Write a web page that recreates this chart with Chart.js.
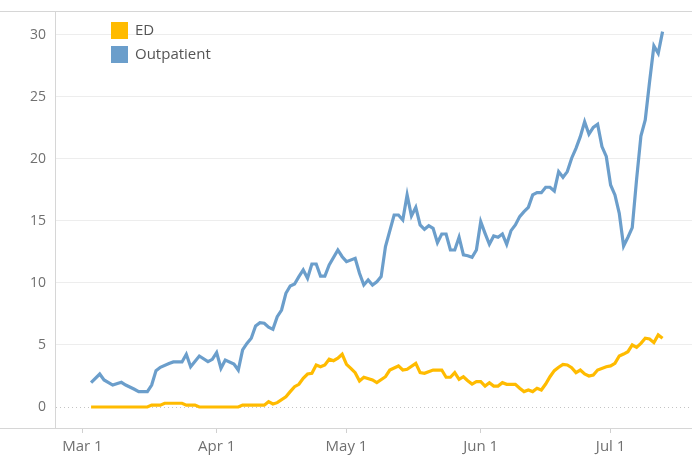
<!DOCTYPE html>
<html>
<head>
<meta charset="utf-8">
<script src="https://cdn.jsdelivr.net/npm/chart.js@4"></script>
<style>
  html, body { margin: 0; padding: 0; background: #fff; }
</style>
</head>
<body>
<canvas id="chart" width="692" height="457"></canvas>
<script>
// x values are days counted from Mar 1 (day 0)
const tickDays = [0, 31, 61, 92, 122];
const tickLabels = ['Mar 1', 'Apr 1', 'May 1', 'Jun 1', 'Jul 1'];
const yTicks = [0, 5, 10, 15, 20, 25, 30];

const edDays = [2, 15, 16, 18, 19, 23, 24, 26, 27, 36, 37, 42, 43, 44, 45, 47, 48, 49, 50, 51,
  52, 53, 54, 55, 56, 57, 58, 59, 60, 61, 62, 63, 64, 65, 67, 68, 70, 71, 73, 74, 75, 77, 78, 79,
  81, 83, 84, 85, 86, 87, 88, 89, 90, 91, 92, 93, 94, 95, 96, 97, 98, 100, 101, 102, 103, 104,
  105, 106, 107, 108, 109, 110, 111, 112, 113, 114, 115, 116, 117, 118, 119, 121, 122, 123, 124,
  125, 126, 127, 128, 129, 130, 131, 132, 133, 134];
const edValues = [0, 0, 0.15, 0.15, 0.3, 0.3, 0.15, 0.15, 0, 0, 0.15, 0.15, 0.43, 0.24, 0.35, 0.83, 1.24, 1.64, 1.83, 2.31,
  2.66, 2.72, 3.39, 3.25, 3.39, 3.85, 3.73, 3.93, 4.25, 3.44, 3.12, 2.77, 2.1, 2.4, 2.18, 1.96, 2.44, 2.98, 3.31, 2.98, 3.04, 3.52, 2.77, 2.72,
  2.98, 2.98, 2.4, 2.4, 2.77, 2.23, 2.44, 2.12, 1.85, 2.04, 2.04, 1.69, 1.96, 1.69, 1.69, 1.96, 1.83, 1.83, 1.51, 1.24, 1.37, 1.24,
  1.51, 1.37, 1.85, 2.44, 2.93, 3.2, 3.44, 3.39, 3.17, 2.77, 2.98, 2.66, 2.5, 2.58, 2.98, 3.25, 3.31, 3.52, 4.11,
  4.27, 4.46, 5.0, 4.81, 5.13, 5.54, 5.48, 5.19, 5.81, 5.54];

const outDays = [2, 4, 5, 7, 9, 10, 12, 13, 15, 16, 17, 18, 20, 21, 23, 24, 25, 27, 29, 30,
  31, 32, 33, 35, 36, 37, 38, 39, 40, 41, 42, 43, 44, 45, 46, 47, 48, 49, 50, 51,
  52, 53, 54, 55, 56, 57, 59, 60, 61, 63, 64, 65, 66, 67, 68, 69, 70, 72, 73, 74,
  75, 76, 77, 78, 79, 80, 81, 82, 83, 84, 85, 86, 87, 88, 89, 90, 91, 92, 93, 94,
  95, 96, 97, 98, 99, 100, 101, 102, 103, 104, 105, 106, 107, 108, 109, 110, 111, 112, 113, 114,
  115, 116, 117, 118, 119, 120, 121, 122, 123, 124, 125, 126, 127, 128, 129, 130, 131, 132, 133, 134];
const outValues = [1.96, 2.66, 2.18, 1.77, 1.99, 1.77, 1.43, 1.24, 1.24, 1.77, 2.93, 3.2, 3.5, 3.63, 3.63, 4.25, 3.25, 4.11, 3.66, 3.84,
  4.38, 3.12, 3.79, 3.47, 2.98, 4.6, 5.13, 5.54, 6.53, 6.8, 6.75, 6.43, 6.26, 7.28, 7.82, 9.17, 9.76, 9.92, 10.51, 11.05,
  10.38, 11.53, 11.53, 10.56, 10.56, 11.45, 12.66, 12.12, 11.72, 11.99, 10.78, 9.84, 10.24, 9.84, 10.1, 10.51, 12.93, 15.48, 15.48, 15.08,
  17.1, 15.4, 16.1, 14.68, 14.33, 14.62, 14.41, 13.25, 13.95, 13.95, 12.66, 12.66, 13.69, 12.26, 12.2, 12.07, 12.66, 14.94, 14.0, 13.12,
  13.79, 13.69, 13.95, 13.12, 14.22, 14.68, 15.35, 15.75, 16.1, 17.1, 17.28, 17.28, 17.72, 17.72, 17.42, 18.98, 18.52, 18.98, 20.06, 20.86,
  21.8, 23.0, 22.0, 22.55, 22.8, 21.0, 20.2, 17.9, 17.1, 15.62, 12.98, 13.69, 14.46, 18.36, 21.85, 23.15, 26.23, 29.11, 28.52, 30.27];

const fontFamily = '"Open Sans", "DejaVu Sans", sans-serif';

// pane borders and the dotted zero line
const framePlugin = {
    id: 'frame',
    beforeDatasetsDraw(chart) {
        const ctx = chart.ctx;
        const area = chart.chartArea;
        const zeroY = Math.round(chart.scales.y.getPixelForValue(0)) + 0.5;
        ctx.save();
        ctx.lineWidth = 1;
        ctx.strokeStyle = '#d6d6d6';
        ctx.beginPath();
        ctx.moveTo(0, area.top - 0.5);
        ctx.lineTo(chart.width, area.top - 0.5);
        ctx.moveTo(0, area.bottom + 0.5);
        ctx.lineTo(chart.width, area.bottom + 0.5);
        ctx.moveTo(area.left - 0.5, area.top);
        ctx.lineTo(area.left - 0.5, area.bottom);
        ctx.stroke();

        ctx.strokeStyle = '#c4c4c4';
        ctx.setLineDash([1, 3]);
        ctx.beginPath();
        ctx.moveTo(area.left, zeroY);
        ctx.lineTo(area.right, zeroY);
        ctx.stroke();
        ctx.restore();
    }
};

// legend drawn inside the plot, top left
const legendPlugin = {
    id: 'insideLegend',
    afterDraw(chart) {
        const ctx = chart.ctx;
        ctx.save();
        chart.data.datasets.forEach((ds, i) => {
            const top = 22 + i * 24;
            ctx.fillStyle = ds.borderColor;
            ctx.fillRect(111, top, 17, 17);
            ctx.fillStyle = '#555555';
            ctx.font = '15px ' + fontFamily;
            ctx.textBaseline = 'middle';
            ctx.fillText(ds.label, 135, top + 9);
        });
        ctx.restore();
    }
};

new Chart(document.getElementById('chart'), {
    type: 'line',
    data: {
        datasets: [{
            label: 'ED',
            data: edDays.map((d, i) => ({ x: d, y: edValues[i] })),
            borderColor: '#ffbb00',
            borderWidth: 3.2,
            pointRadius: 0,
            tension: 0,
            fill: false
        }, {
            label: 'Outpatient',
            data: outDays.map((d, i) => ({ x: d, y: outValues[i] })),
            borderColor: '#6b9ecb',
            borderWidth: 3.2,
            pointRadius: 0,
            tension: 0,
            fill: false
        }]
    },
    options: {
        responsive: false,
        animation: false,
        layout: { padding: { top: 12, left: 0, right: 0, bottom: 0 } },
        plugins: {
            legend: { display: false },
            tooltip: { enabled: false }
        },
        scales: {
            x: {
                type: 'linear',
                min: -6.1,
                max: 140.8,
                afterBuildTicks: (scale) => { scale.ticks = tickDays.map(v => ({ value: v })); },
                afterFit: (scale) => {
                    scale.height = 29;
                    scale.paddingLeft = 0;
                    scale.paddingRight = 0;
                },
                ticks: {
                    callback: (value, index) => tickLabels[index],
                    color: '#707070',
                    font: { family: fontFamily, size: 15 },
                    padding: 5,
                    maxRotation: 0,
                    autoSkip: false
                },
                grid: { drawOnChartArea: false, drawTicks: true, tickLength: 5, tickColor: '#d0d0d0' },
                border: { display: false }
            },
            y: {
                min: -1.694,
                max: 31.85,
                afterBuildTicks: (scale) => { scale.ticks = yTicks.map(v => ({ value: v })); },
                afterFit: (scale) => {
                    scale.width = 56;
                    scale.paddingTop = 0;
                    scale.paddingBottom = 0;
                },
                ticks: {
                    color: '#707070',
                    font: { family: fontFamily, size: 14 },
                    padding: 10
                },
                grid: {
                    color: (c) => (c.tick && c.tick.value === 0) ? 'rgba(0,0,0,0)' : '#ededed',
                    drawTicks: false
                },
                border: { display: false }
            }
        }
    },
    plugins: [framePlugin, legendPlugin]
});
</script>
</body>
</html>
